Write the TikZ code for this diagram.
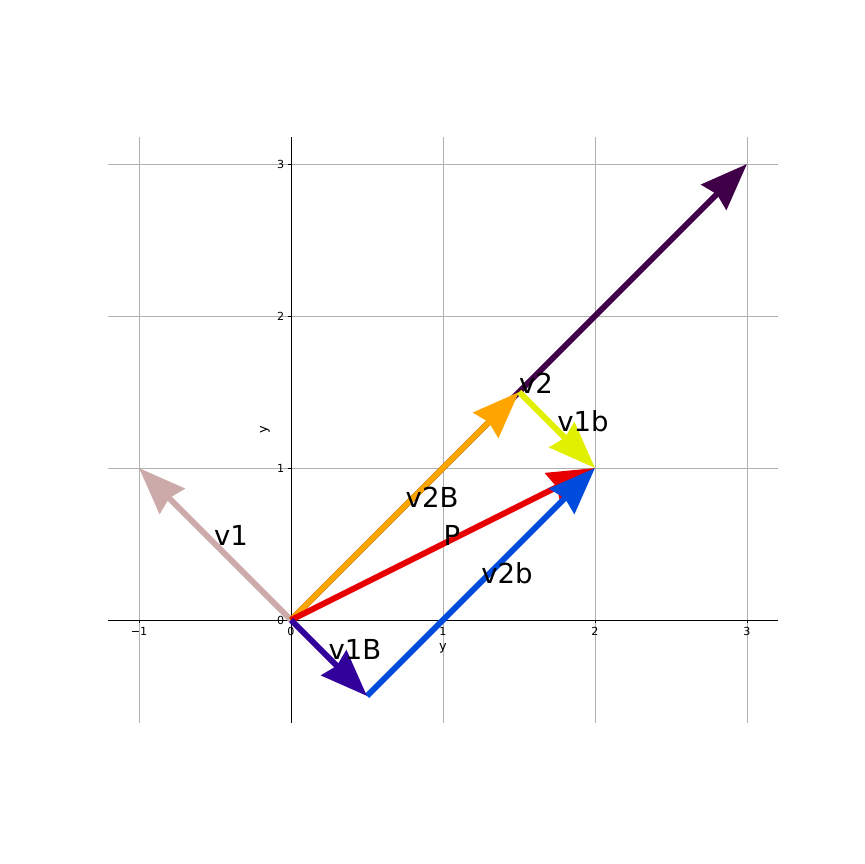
\documentclass[tikz,border=0pt]{standalone}
\usepackage{fontspec}
\setmainfont{DejaVu Sans}
\usetikzlibrary{arrows.meta}
\definecolor{cv1}{RGB}{204,170,170}
\definecolor{cv2}{RGB}{64,0,72}
\definecolor{cv2B}{RGB}{255,165,0}
\definecolor{cv1b}{RGB}{224,240,0}
\definecolor{cP}{RGB}{230,0,0}
\definecolor{cv2b}{RGB}{0,75,220}
\definecolor{cv1B}{RGB}{50,0,155}
\definecolor{gridc}{RGB}{176,176,176}
\tikzset{
  vec/.style={line width=0.18cm,-{Stealth[length=1.4cm,width=1.05cm,inset=0.12cm]}},
  lab/.style={font=\fontsize{23.5pt}{26pt}\selectfont,inner sep=0pt},
  tick/.style={font=\fontsize{9.5pt}{11pt}\selectfont,inner sep=0pt},
  gridline/.style={gridc,line width=0.7pt},
  axisline/.style={black,line width=0.7pt}
}
\begin{document}
\begin{tikzpicture}
\useasboundingbox (0,0) rectangle (25.92,25.92);
\begin{scope}[shift={(8.73,7.32)},x=4.56cm,y=4.56cm]
% grid
\foreach \i in {-1,1,2,3} \draw[gridline] (\i,-0.678) -- (\i,3.178);
\foreach \j in {1,2,3} \draw[gridline] (-1.204,\j) -- (3.204,\j);
% axes
\coordinate (xl) at (-1.204,0); \coordinate (xr) at (3.204,0);
\coordinate (yb) at (0,-0.678); \coordinate (yt) at (0,3.178);
\draw[axisline] (xl) -- (xr);
\draw[axisline] (yb) -- (yt);
\foreach \i in {-1,0,1,2,3} {
  \draw[axisline] (\i,0) -- ++(0,-0.1cm);
  \node[tick,anchor=north] (xt\i) at ([yshift=-0.2cm]\i,0) {\ifnum\i<0 −1\else\i\fi};
}
\foreach \j in {0,1,2,3} {
  \draw[axisline] (0,\j) -- ++(-0.1cm,0);
  \node[tick,anchor=east] (yt\j) at ([xshift=-0.2cm]0,\j) {\j};
}
\node[tick,font=\fontsize{11pt}{13pt}\selectfont] (xlabel) at (1.0,-0.184) {y};
\node[tick,font=\fontsize{11pt}{13pt}\selectfont,rotate=90] (ylabel) at (-0.171,1.25) {y};
% vectors
\coordinate (O) at (0,0);
\coordinate (A) at (-1,1);
\coordinate (B) at (3,3);
\coordinate (C) at (1.5,1.5);
\coordinate (D) at (2,1);
\coordinate (E) at (0.5,-0.5);
\draw[vec,cv1] (O) -- (A);
\draw[vec,cv2] (O) -- (B);
\draw[vec,cv2B] (O) -- (C);
\draw[vec,cv1b] (C) -- (D);
\draw[vec,cP] (O) -- (D);
\draw[vec,cv2b] (E) -- (D);
\draw[vec,cv1B] (O) -- (E);
% labels
\node[lab] (lv1) at (-0.395,0.559) {v1};
\node[lab] (lv2) at (1.612,1.559) {v2};
\node[lab] (lv1b) at (1.921,1.309) {v1b};
\node[lab] (lv2B) at (0.928,0.809) {v2B};
\node[lab] (lP) at (1.059,0.559) {P};
\node[lab] (lv2b) at (1.421,0.309) {v2b};
\node[lab] (lv1B) at (0.421,-0.191) {v1B};
\end{scope}
\end{tikzpicture}
\end{document}
